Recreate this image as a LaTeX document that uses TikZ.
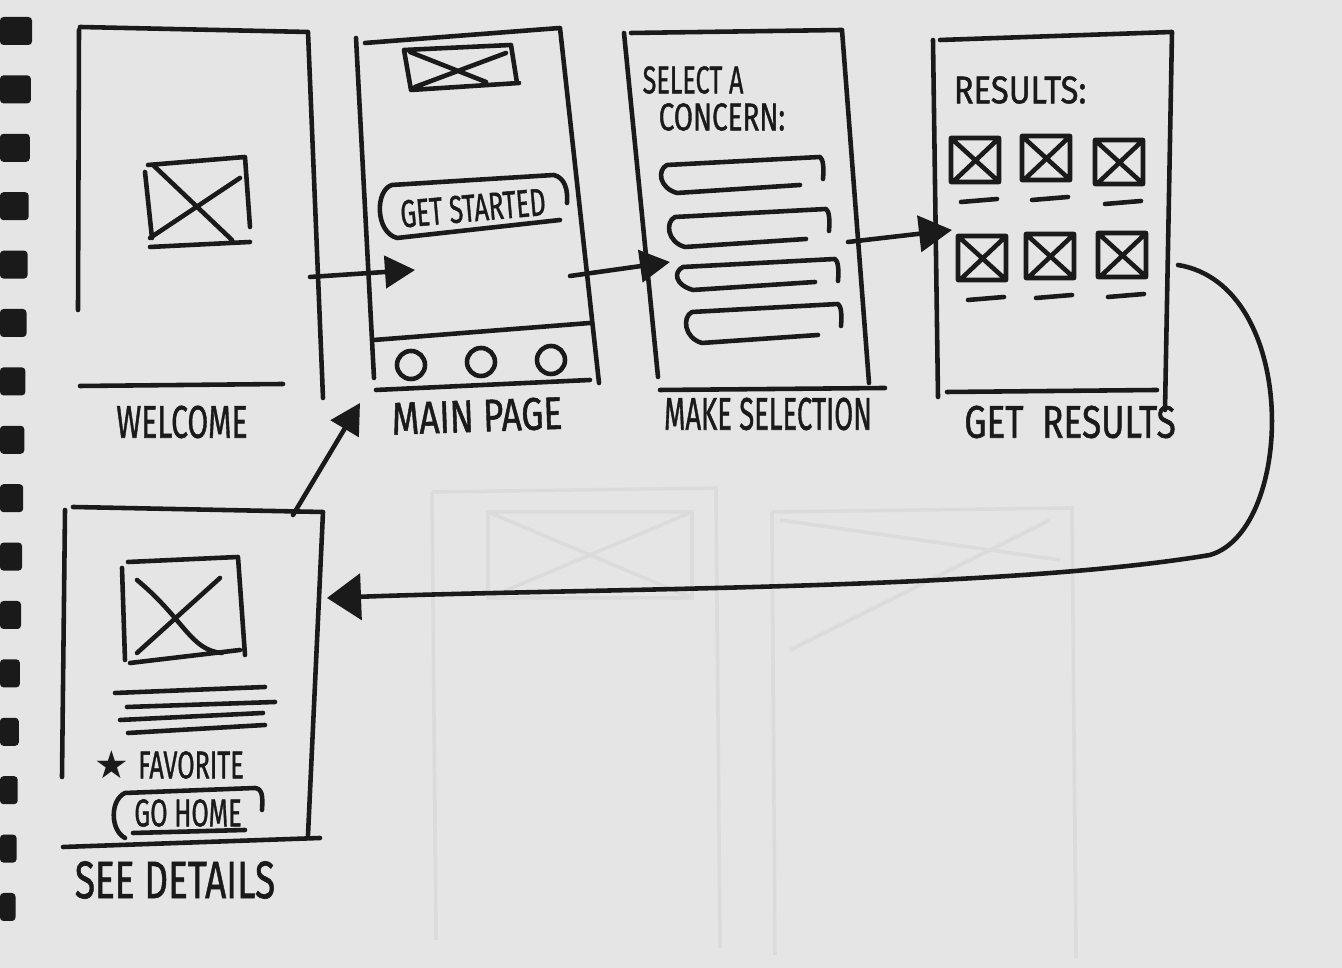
\documentclass[tikz,border=0pt]{standalone}
\usepackage{fontspec}
\usepackage{graphicx}
\setsansfont{Fira Sans}[FakeBold=1.2]
\newfontfamily\starfont{DejaVu Sans}
\usetikzlibrary{arrows.meta}
\definecolor{paper}{RGB}{229,229,229}
\definecolor{ink}{RGB}{26,26,26}
\definecolor{ghost}{RGB}{219,219,219}
\newcommand{\hand}[2][0.65]{\scalebox{#1}[1]{#2}}

\begin{document}
\begin{tikzpicture}[x=0.01cm,y=-0.01cm,>={Triangle[length=3mm,width=3.2mm]},
  pen/.style={draw=ink,line width=1.3pt,line cap=round,line join=round},
  screenname/.style={text=ink,inner sep=0pt,font=\sffamily\fontsize{13}{13}\selectfont},
  uitext/.style={text=ink,inner sep=0pt,font=\sffamily\fontsize{11}{11}\selectfont}]
\fill[paper] (0,0) rectangle (1342,968);
\useasboundingbox (0,0) rectangle (1342,968);
\foreach \i in {0,...,15}
  \fill[ink,rounded corners=1pt] (0,{17+58.4*\i}) rectangle ({32-1.1*\i},{45+58.4*\i});
\begin{scope}[draw=ghost,line width=1pt]
\draw (432,492) -- (716,488) -- (720,948) (432,492) -- (436,940);
\draw (488,512) rectangle (692,598) (488,512) -- (692,598) (692,512) -- (488,598);
\draw (772,512) -- (1072,508) -- (1076,958) (772,512) -- (775,955);
\draw (780,520) -- (1060,560) (1050,520) -- (790,650);
\end{scope}
% welcome
\draw[pen] (79,30) -- (78,310);
\draw[pen] (80,27) -- (308,32) -- (323,398);
\draw[pen] (80,386) -- (283,384);
\draw[pen] (145,172) -- (152,238) (148,165) -- (245,157) -- (250,227) (150,247) -- (250,242)
  (153,165) -- (232,240) (240,178) -- (150,238);
\node[screenname] (welcome) at (182,422) {\hand[0.66]{WELCOME}};
\coordinate (welcome-out) at (310,277);
% main page
\draw[pen] (356,38) -- (374,378);
\draw[pen] (365,43) -- (560,28) -- (599,383);
\draw[pen] (404,50) -- (411,90) (404,50) -- (511,45) -- (517,83) (411,90) -- (519,83)
  (410,52) -- (486,82) (506,53) -- (415,87);
\draw[pen] (560,220) -- (397,238) .. controls (375,232) and (375,190) .. (392,185)
  -- (554,175) .. controls (565,178) and (568,190) .. (567,203);
\node[uitext,rotate=5] (getstarted) at (473,208) {\hand{GET STARTED}};
\draw[pen] (374,340) -- (590,323);
\foreach \cx/\cy in {411/365,481/362,551/360}
  \draw[pen] (\cx,\cy) circle[radius=1.4mm];
\draw[pen] (376,390) -- (590,380);
\node[screenname,rotate=2] (mainpage) at (477,416) {\hand[0.77]{MAIN PAGE}};
\coordinate (main-in) at (415,270);
\coordinate (main-out) at (570,276);
\coordinate (main-back) at (360,403);
% make selection
\draw[pen] (624,33) -- (658,377);
\draw[pen] (631,33) -- (842,30) -- (869,383);
\draw[pen] (660,390) -- (885,388);
\node[uitext,anchor=west] (selecta) at (642,80) {\hand{SELECT A}};
\node[uitext,anchor=west] (concern) at (658,117) {\hand[0.72]{CONCERN:}};
\foreach \xa/\ya/\xb/\yb in {667/165/820/193,675/217/826/247,683/267/835/290,692/312/838/343}
  \draw[pen] (\xa,\ya) -- (\xb,{\ya-8}) .. controls ({\xb+3},{\ya-6}) and ({\xb+4},{\ya+2}) .. ({\xb+3},{\ya+14})
    (\xa,\ya) .. controls ({\xa-10},{\ya+5}) and ({\xa-8},{\yb-5}) .. ({\xa+10},\yb) -- ({\xb-20},{\yb-8});
\node[screenname] (makeselection) at (768,414) {\hand[0.6]{MAKE SELECTION}};
\coordinate (select-in) at (670,262);
\coordinate (select-out) at (848,242);
% results
\draw[pen] (933,40) -- (938,397);
\draw[pen] (940,40) -- (1172,32) -- (1165,410);
\draw[pen] (947,392) -- (1157,390);
\node[uitext,anchor=west] (resultshead) at (953,90) {\hand[0.85]{RESULTS:}};
\foreach \cx/\cy in {975/160,1046/158,1119/162,982/258,1050/256,1122/255}
  \draw[pen] ({\cx-24},{\cy-22}) rectangle ({\cx+24},{\cy+22})
    ({\cx-22},{\cy-20}) -- ({\cx+22},{\cy+20}) ({\cx+20},{\cy-18}) -- ({\cx-20},{\cy+20})
    ({\cx-14},{\cy+42}) -- ({\cx+22},{\cy+39});
\node[screenname] (getresults) at (1070,422) {\hand[0.77]{GET \ RESULTS}};
\coordinate (results-in) at (952,230);
\coordinate (results-out) at (1178,265);
% see details
\draw[pen] (65,510) -- (62,777);
\draw[pen] (73,507) -- (323,512) -- (308,835);
\draw[pen] (63,847) -- (320,838);
\draw[pen] (122,568) -- (125,660) (128,562) -- (238,557) -- (245,655) (130,663) -- (240,650)
  (137,580) .. controls (185,620) and (190,650) .. (222,653) (220,578) -- (137,653);
\draw[pen] (115,693) -- (265,687) (127,707) -- (275,702) (120,720) -- (263,713) (128,733) -- (265,725);
\node[text=ink,font=\starfont\fontsize{11}{11}\selectfont] (star) at (112,765) {★};
\node[uitext] (favorite) at (191,765) {\hand{FAVORITE}};
\draw[pen] (262,810) .. controls (263,795) and (262,789) .. (255,788) -- (125,793)
  .. controls (110,800) and (110,830) .. (125,838);
\draw[pen] (133,833) -- (245,830);
\node[uitext] (gohome) at (188,813) {\hand{GO HOME}};
\node[screenname,font=\sffamily\fontsize{15}{15}\selectfont] (seedetails) at (175,880) {\hand[0.7]{SEE DETAILS}};
\coordinate (details-in) at (327,598);
\coordinate (details-out) at (293,515);
% flow
\draw[pen,->] (welcome-out) -- (main-in);
\draw[pen,->] (main-out) -- (select-in);
\draw[pen,-{Triangle[length=3.3mm,width=3.6mm]}] (select-out) -- (results-in);
\draw[pen,-{Triangle[length=3.4mm,width=4.6mm]}] (results-out) .. controls (1300,285) and (1295,530) .. (1210,555)
  .. controls (1000,590) and (600,588) .. (details-in);
\draw[pen,->] (details-out) -- (main-back);
\end{tikzpicture}
\end{document}
